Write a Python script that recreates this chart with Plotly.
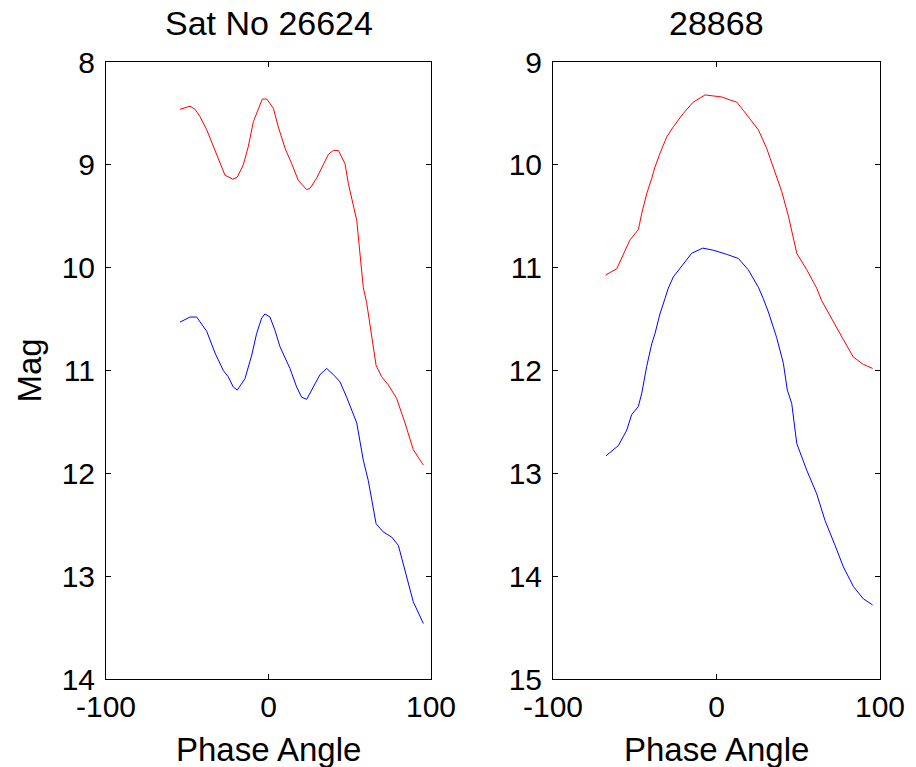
import plotly.graph_objects as go

# ---------------- data ----------------
# Sat No 26624 (left panel)
sat1_red_phase = [-54.5, -48.3, -45.2, -42.2, -38.0, -34.0, -29.8, -26.8, -22.0, -19.2,
                  -15.5, -12.4, -9.3, -6.3, -3.8, -1.1, 3.0, 6.0, 10.2, 14.3,
                  18.3, 23.4, 25.5, 29.6, 33.7, 36.8, 39.9, 43.0, 47.1, 49.1,
                  54.3, 58.3, 60.4, 63.5, 66.2, 69.6, 73.7, 78.8, 84.0, 89.1, 95.3]
sat1_red_mag = [8.46, 8.43, 8.46, 8.53, 8.66, 8.82, 8.99, 9.10, 9.14, 9.12,
                9.00, 8.82, 8.58, 8.45, 8.36, 8.36, 8.45, 8.63, 8.84, 8.99,
                9.15, 9.24, 9.23, 9.13, 9.00, 8.90, 8.86, 8.86, 8.99, 9.18,
                9.54, 10.19, 10.34, 10.66, 10.95, 11.06, 11.14, 11.27, 11.51, 11.77, 11.92]

sat1_blue_phase = [-54.5, -48.3, -44.2, -38.0, -32.9, -27.8, -24.8, -21.7, -19.2, -14.5,
                   -10.3, -7.3, -4.2, -2.2, 0.9, 4.0, 7.1, 13.2, 17.3, 20.4,
                   23.5, 27.6, 31.7, 35.8, 39.9, 44.0, 48.1, 54.3, 58.3, 61.4,
                   66.2, 70.6, 75.8, 79.9, 84.0, 89.1, 95.3]
sat1_blue_mag = [10.53, 10.48, 10.48, 10.62, 10.83, 11.00, 11.06, 11.16, 11.19, 11.08,
                 10.85, 10.64, 10.49, 10.45, 10.48, 10.61, 10.77, 10.98, 11.16, 11.26,
                 11.28, 11.16, 11.04, 10.98, 11.04, 11.11, 11.26, 11.51, 11.87, 12.07,
                 12.49, 12.57, 12.62, 12.70, 12.94, 13.25, 13.46]

# Sat 28868 (right panel)
sat2_red_phase = [-67.6, -61.0, -52.9, -47.8, -45.7, -42.7, -39.6, -37.6, -34.6, -30.5,
                  -26.4, -20.3, -14.2, -7.0, -2.0, 3.2, 8.3, 12.4, 16.4, 20.5,
                  25.6, 30.7, 34.8, 39.9, 44.0, 49.1, 55.2, 61.3, 64.3, 67.4,
                  72.5, 77.6, 83.7, 89.8, 95.5]
sat2_red_mag = [11.07, 11.01, 10.73, 10.63, 10.47, 10.28, 10.13, 10.02, 9.89, 9.73,
                9.63, 9.50, 9.39, 9.32, 9.33, 9.34, 9.37, 9.39, 9.47, 9.55,
                9.66, 9.84, 10.02, 10.26, 10.50, 10.86, 11.02, 11.20, 11.32, 11.41,
                11.56, 11.70, 11.87, 11.94, 11.98]

sat2_blue_phase = [-67.6, -60.0, -54.9, -51.9, -47.8, -45.7, -42.7, -39.6, -37.6, -34.6,
                   -31.5, -29.5, -26.4, -21.3, -15.2, -8.4, -2.0, 6.2, 13.3, 19.4,
                   25.6, 28.6, 31.7, 36.8, 40.9, 43.3, 46.0, 49.1, 55.2, 61.3,
                   66.4, 72.5, 77.6, 83.7, 89.8, 95.5]
sat2_blue_mag = [12.83, 12.73, 12.58, 12.43, 12.35, 12.22, 11.96, 11.74, 11.64, 11.45,
                 11.30, 11.20, 11.09, 10.99, 10.86, 10.81, 10.83, 10.87, 10.91, 11.02,
                 11.19, 11.30, 11.43, 11.68, 11.93, 12.19, 12.32, 12.71, 12.97, 13.20,
                 13.46, 13.70, 13.91, 14.10, 14.22, 14.28]

x_tickvals = [-100, 0, 100]
x_ticktext = ["-100", "0", "100"]
y1_tickvals = [8, 9, 10, 11, 12, 13, 14]
y2_tickvals = [9, 10, 11, 12, 13, 14, 15]
panel_titles = ["Sat No 26624", "28868"]
x_label = "Phase Angle"
y_label = "Mag"

# ---------------- layout geometry ----------------
W, H = 916, 767
FONT = "Liberation Sans, Arial, Helvetica, sans-serif"


def px_x(p):
    return p / W


def px_y(p):
    return 1 - p / H


ytop, ybot = 62, 679
x1l, x1r = 106, 431
x2l, x2r = 553, 880

fig = go.Figure()
fig.add_trace(go.Scatter(x=sat1_red_phase, y=sat1_red_mag, mode="lines",
                         line=dict(color="#ff0000", width=1), xaxis="x", yaxis="y"))
fig.add_trace(go.Scatter(x=sat1_blue_phase, y=sat1_blue_mag, mode="lines",
                         line=dict(color="#0000ff", width=1), xaxis="x", yaxis="y"))
fig.add_trace(go.Scatter(x=sat2_red_phase, y=sat2_red_mag, mode="lines",
                         line=dict(color="#ff0000", width=1), xaxis="x2", yaxis="y2"))
fig.add_trace(go.Scatter(x=sat2_blue_phase, y=sat2_blue_mag, mode="lines",
                         line=dict(color="#0000ff", width=1), xaxis="x2", yaxis="y2"))

common_axis = dict(showline=True, linecolor="black", linewidth=1, mirror="ticks",
                   ticks="inside", ticklen=5, tickwidth=1, tickcolor="black",
                   showgrid=False, zeroline=False, automargin=False,
                   tickfont=dict(family=FONT, size=30, color="black"))

xdom1 = [px_x(x1l), px_x(x1r)]
xdom2 = [px_x(x2l), px_x(x2r)]
ydom = [px_y(ybot), px_y(ytop)]

fig.update_layout(
    template="none",
    width=W, height=H,
    margin=dict(l=0, r=0, t=0, b=0, pad=0),
    paper_bgcolor="white", plot_bgcolor="white",
    showlegend=False,
    font=dict(family=FONT, color="black"),
    xaxis=dict(domain=xdom1, range=[-100, 100], tickvals=x_tickvals, ticktext=x_ticktext,
               anchor="y", ticklabelstandoff=1, **common_axis),
    yaxis=dict(domain=ydom, range=[14, 8], tickvals=y1_tickvals, anchor="x",
               ticklabelstandoff=4, **common_axis),
    xaxis2=dict(domain=xdom2, range=[-100, 100], tickvals=x_tickvals, ticktext=x_ticktext,
                anchor="y2", ticklabelstandoff=1, **common_axis),
    yaxis2=dict(domain=ydom, range=[15, 9], tickvals=y2_tickvals, anchor="x2",
                ticklabelstandoff=4, **common_axis),
)

ann_font_title = dict(family=FONT, size=34, color="black")
ann_font_label = dict(family=FONT, size=33, color="black")
annotations = [
    dict(text=panel_titles[0], x=px_x((x1l + x1r) / 2), y=px_y(23), xref="paper", yref="paper",
         xanchor="center", yanchor="middle", showarrow=False, font=ann_font_title),
    dict(text=panel_titles[1], x=px_x((x2l + x2r) / 2), y=px_y(23), xref="paper", yref="paper",
         xanchor="center", yanchor="middle", showarrow=False, font=ann_font_title),
    dict(text=x_label, x=px_x((x1l + x1r) / 2), y=px_y(749), xref="paper", yref="paper",
         xanchor="center", yanchor="middle", showarrow=False, font=ann_font_label),
    dict(text=x_label, x=px_x((x2l + x2r) / 2), y=px_y(749), xref="paper", yref="paper",
         xanchor="center", yanchor="middle", showarrow=False, font=ann_font_label),
    dict(text=y_label, x=px_x(29), y=px_y((ytop + ybot) / 2), xref="paper", yref="paper",
         xanchor="center", yanchor="middle", textangle=-90, showarrow=False, font=ann_font_label),
]
fig.update_layout(annotations=annotations)

# remove the default 8px page margin so the figure fills the 916x767 window exactly
fig.write_html("out.html", config={"displayModeBar": False},
               post_script="document.body.style.margin='0px';")
